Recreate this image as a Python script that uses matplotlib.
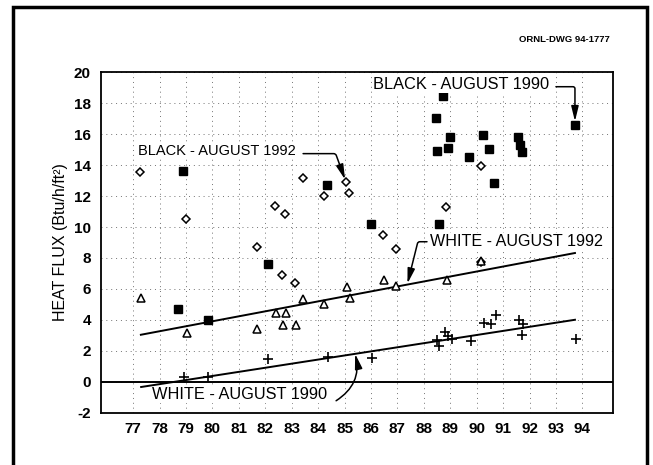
import matplotlib
matplotlib.use("Agg")
import matplotlib.pyplot as plt
from matplotlib.lines import Line2D

plt.rcParams['font.family'] = ['Liberation Sans', 'DejaVu Sans']

# ---- data ----
years_ticks = list(range(77, 95))
y_ticks = list(range(-2, 21, 2))

black92_x = [77.26, 79.0, 81.67, 82.37, 82.62, 82.75, 83.12, 83.41, 84.22, 85.05, 85.18, 86.47, 86.95, 88.84, 90.15, 90.17]
black92_y = [13.54, 10.5, 8.69, 11.34, 6.9, 10.85, 6.38, 13.18, 11.99, 12.92, 12.2, 9.51, 8.6, 11.28, 13.97, 7.75]

black90_x = [78.87, 78.7, 79.84, 82.11, 84.32, 86.0, 88.46, 88.74, 88.49, 88.57, 88.93, 88.99, 89.72, 90.23, 90.48, 90.67, 91.58, 91.64, 91.73, 93.72]
black90_y = [13.6, 4.72, 4.0, 7.6, 12.72, 10.2, 17.06, 18.5, 14.9, 10.22, 15.12, 15.83, 14.54, 15.98, 15.05, 12.85, 15.83, 15.33, 14.83, 16.58]

white92_x = [77.29, 79.02, 81.7, 82.4, 82.66, 82.78, 83.16, 83.44, 84.24, 85.1, 85.2, 86.49, 86.95, 88.89, 90.17]
white92_y = [5.41, 3.14, 3.4, 4.44, 3.68, 4.44, 3.68, 5.35, 5.05, 6.1, 5.41, 6.6, 6.16, 6.6, 7.8]

white90_x = [78.92, 79.84, 82.11, 84.37, 86.03, 88.51, 88.57, 88.8, 88.93, 89.05, 89.77, 90.28, 90.53, 90.72, 91.62, 91.77, 91.73, 93.75]
white90_y = [0.27, 0.27, 1.46, 1.59, 1.53, 2.71, 2.32, 3.19, 2.97, 2.76, 2.6, 3.79, 3.75, 4.33, 3.96, 3.75, 2.99, 2.78]

fit92_x = [77.29, 93.72]
fit92_y = [3.03, 8.32]
fit90_x = [77.3, 93.72]
fit90_y = [-0.35, 4.0]

labels = ["BLACK - AUGUST 1992", "BLACK - AUGUST 1990", "WHITE - AUGUST 1992", "WHITE - AUGUST 1990"]
label_pos = [(77.19, 14.9), (86.09, 19.2), (88.23, 9.07), (77.73, -0.85)]
label_size = [10.5, 11.8, 11.6, 11.8]
arrow_start = [(83.43, 14.75), (93.0, 19.08), (88.12, 9.05), (84.68, -1.24)]
arrow_tip = [(85.02, 13.07), (93.72, 16.84), (87.38, 6.34), (85.4, 1.8)]
arrow_conn = ["angle,angleA=0,angleB=110,rad=2",
              "angle,angleA=0,angleB=90,rad=2",
              "angle,angleA=0,angleB=76,rad=2",
              "arc3,rad=0.35"]

# ---- figure ----
fig = plt.figure(figsize=(6.53, 4.65), dpi=100)
ax = fig.add_axes([100.7 / 653, 1 - 412.5 / 465, (613 - 100.7) / 653, (412.5 - 72.5) / 465])

ax.set_xlim(75.77, 95.16)
ax.set_ylim(-2, 20)

# dotted grid
for x in years_ticks:
    ax.axvline(x, color='0.45', lw=0.7, ls=(0, (1, 4)), zorder=0)
for y in y_ticks:
    ax.axhline(y, color='0.45', lw=0.7, ls=(0, (1, 4)), zorder=0)
ax.axhline(0, color='black', lw=1.4, zorder=1)

ax.plot(fit92_x, fit92_y, color='black', lw=1.4, zorder=2)
ax.plot(fit90_x, fit90_y, color='black', lw=1.4, zorder=2)

ax.plot(black92_x, black92_y, ls='none', marker='D', ms=4, mfc='white', mec='black', mew=1.1, zorder=3)
ax.plot(black90_x, black90_y, ls='none', marker='s', ms=5.5, mfc='black', mec='black', zorder=3)
ax.plot(white92_x, white92_y, ls='none', marker='^', ms=5.5, mfc='white', mec='black', mew=1.1, zorder=3)
ax.plot(white90_x, white90_y, ls='none', marker='+', ms=6.5, color='black', mew=1.2, zorder=3)

for lab, pos, fs, st, tip, cs in zip(labels, label_pos, label_size, arrow_start, arrow_tip, arrow_conn):
    ax.text(pos[0], pos[1], lab, ha='left', va='center', fontsize=fs, color='black', zorder=5,
            bbox=dict(facecolor='white', edgecolor='none', pad=0.5))
    ax.annotate("", xy=tip, xytext=st,
                arrowprops=dict(arrowstyle="-|>,head_length=0.9,head_width=0.22",
                                connectionstyle=cs, color='black', lw=1.1,
                                shrinkA=0, shrinkB=0), zorder=5)

ax.set_xticks(years_ticks)
ax.set_xticklabels([str(v) for v in years_ticks])
ax.set_yticks(y_ticks)
ax.set_yticklabels([str(v) for v in y_ticks])
ax.tick_params(length=0, labelsize=11, pad=7)
for lab in ax.get_xticklabels() + ax.get_yticklabels():
    lab.set_fontweight('bold')
for s in ax.spines.values():
    s.set_linewidth(1.3)
    s.set_color('black')

ax.set_ylabel("HEAT FLUX (Btu/h/ft²)", fontsize=11.5, labelpad=4)

fig.text(610 / 653, 1 - 40 / 465, "ORNL-DWG 94-1777", ha='right', va='center', fontsize=6.8, fontweight='bold')

# page border (open at bottom)
bx0, bx1, by = 12.7 / 653, 647 / 653, 1 - 6.7 / 465
fig.add_artist(Line2D([bx0, bx0, bx1, bx1], [0, by, by, 0], transform=fig.transFigure,
                      color='black', lw=2.5, solid_joinstyle='miter'))

fig.savefig("out.png", dpi=100)
